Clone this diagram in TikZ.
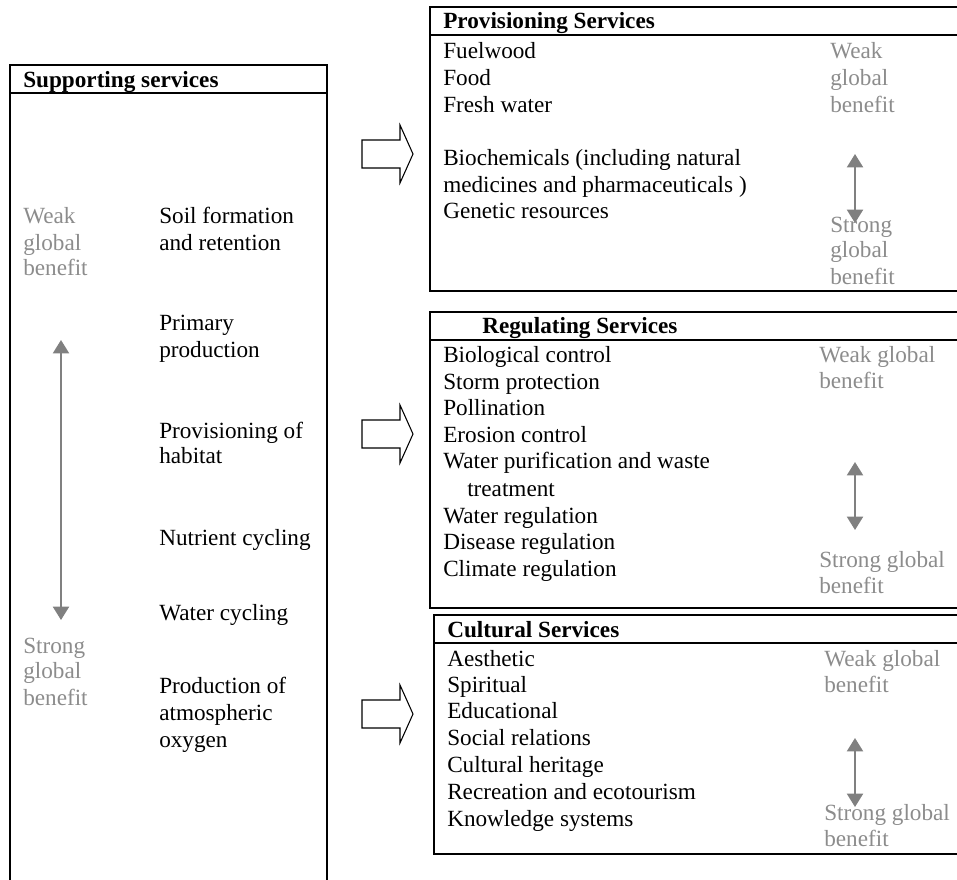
\documentclass[tikz,border=0pt]{standalone}
\usepackage{fontspec}
\setmainfont{Liberation Serif}
\usetikzlibrary{arrows.meta}
\definecolor{txtgray}{HTML}{8C8C8C}
\definecolor{arrgray}{HTML}{808080}
\begin{document}
\begin{tikzpicture}[x=0.75pt,y=-0.75pt,
  lbl/.style={anchor=base west, inner sep=0pt, font=\fontsize{17.4}{20}\selectfont},
  hdr/.style={lbl, font=\fontsize{17.4}{20}\selectfont\bfseries},
  glbl/.style={lbl, text=txtgray},
  frame/.style={draw=black, line width=1.6pt},
  benefit/.style={draw=arrgray, line width=1.5pt, {Triangle[length=10pt,width=12pt]}-{Triangle[length=10pt,width=12pt]}},
  blockarrow/.pic={\draw[line width=0.8pt, fill=white] (0,-14) -- (38,-14) -- (38,-29) -- (51,0) -- (38,29) -- (38,14) -- (0,14) -- cycle;}
]
\useasboundingbox (0,0) rectangle (957,879);
\clip (0,0) rectangle (957,879);

% ---------- Supporting services ----------
\draw[frame] (10,890) -- (10,65) -- (327,65) -- (327,890);
\draw[frame] (10,93) -- (327,93);
\node[hdr] (sup) at (23,87) {Supporting services};
\node[glbl] (lw1) at (23,223) {Weak};
\node[glbl] (lw2) at (23,250) {global};
\node[glbl] (lw3) at (23,275) {benefit};
\node[lbl] (so1) at (159,223) {Soil formation};
\node[lbl] (so2) at (159,250) {and retention};
\node[lbl] (pp1) at (159,330) {Primary};
\node[lbl] (pp2) at (159,357) {production};
\node[lbl] (ph1) at (159,438) {Provisioning of};
\node[lbl] (ph2) at (159,463) {habitat};
\node[lbl] (nc) at (159,545) {Nutrient cycling};
\node[lbl] (wc) at (159,620) {Water cycling};
\node[glbl] (ls1) at (23,653) {Strong};
\node[glbl] (ls2) at (23,678) {global};
\node[glbl] (ls3) at (23,705) {benefit};
\node[lbl] (po1) at (159,693) {Production of};
\node[lbl] (po2) at (159,720) {atmospheric};
\node[lbl] (po3) at (159,747) {oxygen};
\coordinate (la1) at (61,340);
\coordinate (la2) at (61,620);
\draw[benefit] (la1) -- (la2);

% ---------- block arrows ----------
\pic at (362,154) {blockarrow};
\pic at (362,434) {blockarrow};
\pic at (362,714) {blockarrow};

% ---------- Provisioning Services ----------
\draw[frame] (970,7) -- (430,7) -- (430,291) -- (970,291);
\draw[frame] (430,35) -- (970,35);
\node[hdr] (prh) at (443,28) {Provisioning Services};
\node[lbl] (pr1) at (443,58) {Fuelwood};
\node[lbl] (pr2) at (443,85) {Food};
\node[lbl] (pr3) at (443,112) {Fresh water};
\node[lbl] (pr4) at (443,165) {Biochemicals (including natural};
\node[lbl] (pr5) at (443,192) {medicines and pharmaceuticals )};
\node[lbl] (pr6) at (443,218) {Genetic resources};
\node[glbl] (pw1) at (830,58) {Weak};
\node[glbl] (pw2) at (830,85) {global};
\node[glbl] (pw3) at (830,112) {benefit};
\coordinate (pa1) at (855,154);
\coordinate (pa2) at (855,223);
\draw[benefit] (pa1) -- (pa2);
\node[glbl] (ps1) at (830,232) {Strong};
\node[glbl] (ps2) at (830,257) {global};
\node[glbl] (ps3) at (830,284) {benefit};

% ---------- Regulating Services ----------
\draw[frame] (970,312) -- (430,312) -- (430,608) -- (970,608);
\draw[frame] (430,340) -- (970,340);
\node[hdr] (reh) at (482,333) {Regulating Services};
\node[lbl] (re1) at (443,362) {Biological control};
\node[lbl] (re2) at (443,389) {Storm protection};
\node[lbl] (re3) at (443,415) {Pollination};
\node[lbl] (re4) at (443,442) {Erosion control};
\node[lbl] (re5) at (443,468) {Water purification and waste};
\node[lbl] (re6) at (467,496) {treatment};
\node[lbl] (re7) at (443,523) {Water regulation};
\node[lbl] (re8) at (443,549) {Disease regulation};
\node[lbl] (re9) at (443,576) {Climate regulation};
\node[glbl] (rw1) at (819,362) {Weak global};
\node[glbl] (rw2) at (819,388) {benefit};
\coordinate (ra1) at (855,462);
\coordinate (ra2) at (855,530);
\draw[benefit] (ra1) -- (ra2);
\node[glbl] (rs1) at (819,567) {Strong global};
\node[glbl] (rs2) at (819,593) {benefit};

% ---------- Cultural Services ----------
\draw[frame] (970,615) -- (434,615) -- (434,854) -- (970,854);
\draw[frame] (434,643) -- (970,643);
\node[hdr] (cuh) at (447,637) {Cultural Services};
\node[lbl] (cu1) at (447,666) {Aesthetic};
\node[lbl] (cu2) at (447,692) {Spiritual};
\node[lbl] (cu3) at (447,718) {Educational};
\node[lbl] (cu4) at (447,745) {Social relations};
\node[lbl] (cu5) at (447,772) {Cultural heritage};
\node[lbl] (cu6) at (447,799) {Recreation and ecotourism};
\node[lbl] (cu7) at (447,826) {Knowledge systems};
\node[glbl] (cw1) at (824,666) {Weak global};
\node[glbl] (cw2) at (824,692) {benefit};
\coordinate (ca1) at (855,738);
\coordinate (ca2) at (855,807);
\draw[benefit] (ca1) -- (ca2);
\node[glbl] (cs1) at (824,820) {Strong global};
\node[glbl] (cs2) at (824,846) {benefit};
\end{tikzpicture}
\end{document}
